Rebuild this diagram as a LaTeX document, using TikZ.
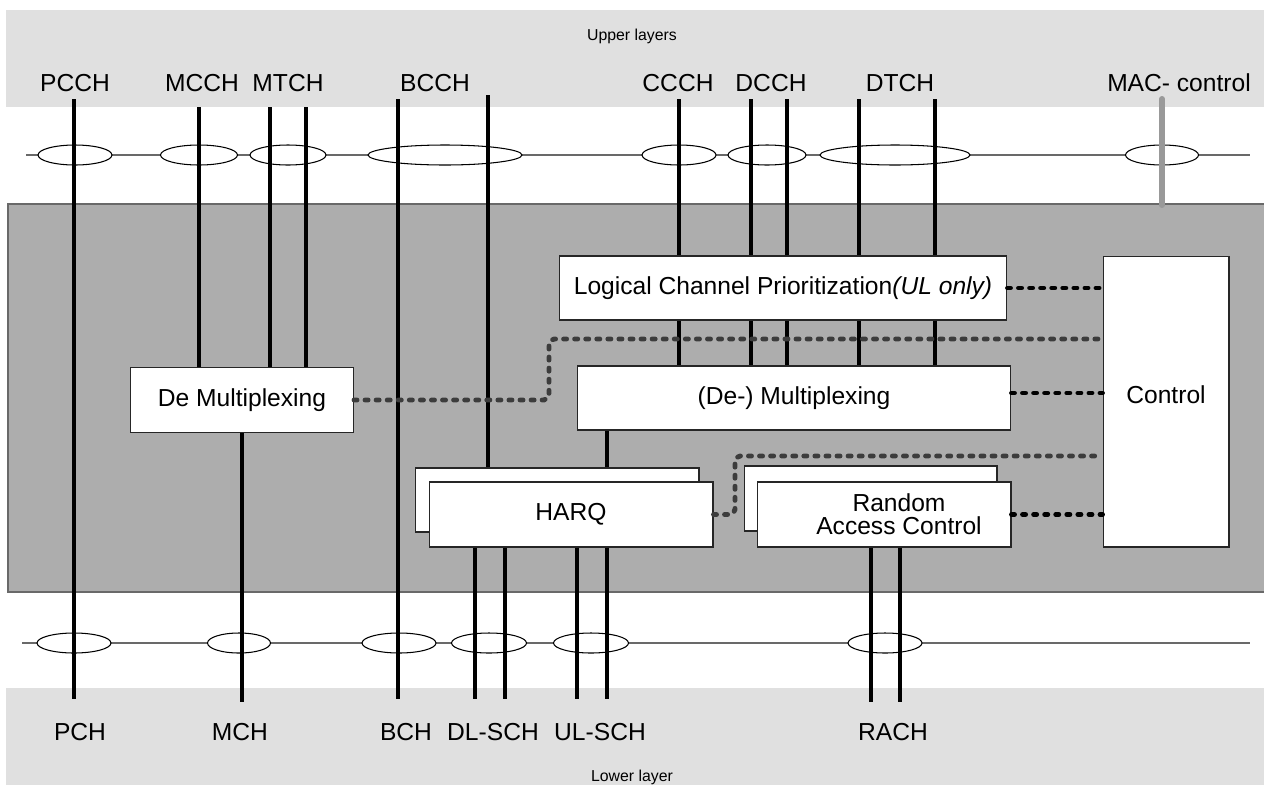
\documentclass[tikz,border=0pt]{standalone}
\usepackage{fontspec}
\setmainfont{Liberation Sans}
\usetikzlibrary{shapes.geometric}

\definecolor{band}{RGB}{224,224,224}
\definecolor{macbody}{RGB}{173,173,173}
\definecolor{sapline}{RGB}{105,105,105}
\definecolor{dotline}{RGB}{60,60,60}

\begin{document}
\begin{tikzpicture}[x=0.02cm,y=-0.02cm,
    chan/.style={line width=2.2pt},
    pill/.style={ellipse,draw,fill=white,line width=0.6pt,inner sep=0pt,
      minimum height=0.4cm,minimum width=#1},
    box/.style={draw=black!85,fill=white,line width=0.6pt,inner sep=0pt,
      font=\fontsize{14}{13}\selectfont,align=center},
    ctrl link/.style={line width=2.8pt,line cap=round,
      dash pattern=on 1.7pt off 4.6pt},
    ]
    \tikzstyle{every node}=[font=\fontsize{14}{16}\selectfont]
    \tikzstyle{layer}=[font=\fontsize{9}{11}\selectfont]

    \useasboundingbox (0,0) rectangle (1264,785);

    % upper / lower layers and the MAC body
    \fill[band] (6,10) rectangle (1264,107);
    \fill[band] (6,688) rectangle (1264,785);
    \fill[macbody] (8,204) rectangle (1264,592);
    \draw[sapline,line width=1pt] (1264,204) -- (8,204) -- (8,592) -- (1264,592);
    \node[layer] (up) at (632,36) {Upper layers};
    \node[layer] (low) at (632,777) {Lower layer};

    % logical channels
    \node (pcch) at (75,83) {PCCH};
    \node (mcch) at (202,83) {MCCH};
    \node (mtch) at (288,83) {MTCH};
    \node (bcch) at (435,83) {BCCH};
    \node (ccch) at (678,83) {CCCH};
    \node (dcch) at (771,83) {DCCH};
    \node (dtch) at (900,83) {DTCH};
    \node (mac) at (1179,83) {MAC- control};

    % transport channels
    \node (pch) at (80,732) {PCH};
    \node (mch) at (240,732) {MCH};
    \node (bch) at (406,732) {BCH};
    \node (dlsch) at (493,732) {DL-SCH};
    \node (ulsch) at (600,732) {UL-SCH};
    \node (rach) at (893,732) {RACH};

    % service access points
    \draw[sapline,line width=0.7pt] (26,155) -- (1250,155);
    \draw[sapline,line width=0.7pt] (22,643) -- (1250,643);
    \node[pill=1.48cm] (s1) at (75,155) {};
    \node[pill=1.54cm] (s2) at (199,155) {};
    \node[pill=1.52cm] (s3) at (288,155) {};
    \node[pill=3.08cm] (s4) at (445,155) {};
    \node[pill=1.48cm] (s5) at (679,155) {};
    \node[pill=1.56cm] (s6) at (767,155) {};
    \node[pill=3.0cm] (s7) at (895,155) {};
    \node[pill=1.46cm] (s8) at (1162,155) {};
    \node[pill=1.48cm] (r1) at (74,643) {};
    \node[pill=1.26cm] (r2) at (239,643) {};
    \node[pill=1.48cm] (r3) at (399,643) {};
    \node[pill=1.5cm] (r4) at (489,643) {};
    \node[pill=1.5cm] (r5) at (591,643) {};
    \node[pill=1.48cm] (r6) at (885,643) {};

    % MAC entities
    \node[box,minimum width=8.96cm,minimum height=1.28cm] (lcp) at (783,288)
      {Logical Channel Prioritization\textit{(UL only)}};
    \node[box,minimum width=8.68cm,minimum height=1.28cm] (mux) at (794,398)
      {(De-) Multiplexing};
    \node[box,minimum width=4.46cm,minimum height=1.3cm] (demux) at (242,400)
      {De Multiplexing};
    \node[box,minimum width=2.52cm,minimum height=5.82cm] (ctrl) at (1166,401.5) {};
    \node (ctrltext) at (1166,395) {Control};
    \node[box,minimum width=5.68cm,minimum height=1.28cm] (harqb) at (557,500) {};
    \node[box,minimum width=5.68cm,minimum height=1.3cm] (harq) at (571,514.5) {HARQ};
    \node[box,minimum width=5.06cm,minimum height=1.3cm] (racb) at (870.5,498.5) {};
    \node[box,minimum width=5.08cm,minimum height=1.3cm] (rac) at (884,514.5)
      {\hspace*{0.6cm}Random\\\hspace*{0.6cm}Access Control};

    % channel ends
    \coordinate (pcch t) at (74,99);
    \coordinate (mcch t) at (199,107);
    \coordinate (mtch t1) at (270,107);
    \coordinate (mtch t2) at (306,107);
    \coordinate (bcch t1) at (398,99);
    \coordinate (bcch t2) at (488,95);
    \coordinate (ccch t) at (679,99);
    \coordinate (dcch t1) at (751,99);
    \coordinate (dcch t2) at (787,99);
    \coordinate (dtch t1) at (859,99);
    \coordinate (dtch t2) at (935,99);
    \coordinate (mac t) at (1162,99);
    \coordinate (mac b) at (1162,205);
    \coordinate (pch b) at (74,699);
    \coordinate (mch b) at (242,702);
    \coordinate (bch b) at (398,699);
    \coordinate (dl b1) at (475,699);
    \coordinate (dl b2) at (505,699);
    \coordinate (ul b1) at (577,699);
    \coordinate (ul b2) at (607,699);
    \coordinate (rach b1) at (871,702);
    \coordinate (rach b2) at (900,702);

    \draw[chan] (pcch t) -- (pch b);
    \draw[chan] (mcch t) -- (mcch t |- demux.north);
    \draw[chan] (mtch t1) -- (mtch t1 |- demux.north);
    \draw[chan] (mtch t2) -- (mtch t2 |- demux.north);
    \draw[chan] (bcch t1) -- (bch b);
    \draw[chan] (bcch t2) -- (bcch t2 |- harqb.north);
    \draw[chan] (ccch t) -- (ccch t |- lcp.north) (ccch t |- lcp.south) -- (ccch t |- mux.north);
    \draw[chan] (dcch t1) -- (dcch t1 |- lcp.north) (dcch t1 |- lcp.south) -- (dcch t1 |- mux.north);
    \draw[chan] (dcch t2) -- (dcch t2 |- lcp.north) (dcch t2 |- lcp.south) -- (dcch t2 |- mux.north);
    \draw[chan] (dtch t1) -- (dtch t1 |- lcp.north) (dtch t1 |- lcp.south) -- (dtch t1 |- mux.north);
    \draw[chan] (dtch t2) -- (dtch t2 |- lcp.north) (dtch t2 |- lcp.south) -- (dtch t2 |- mux.north);
    \draw[line width=3.4pt,line cap=round,black!40] (mac t) -- (mac b);
    \draw[chan] (demux.south -| mch b) -- (mch b);
    \draw[chan] (mux.south -| ul b2) -- (ul b2 |- harqb.north);
    \draw[chan] (harq.south -| dl b1) -- (dl b1);
    \draw[chan] (harq.south -| dl b2) -- (dl b2);
    \draw[chan] (harq.south -| ul b1) -- (ul b1);
    \draw[chan] (harq.south -| ul b2) -- (ul b2);
    \draw[chan] (rac.south -| rach b1) -- (rach b1);
    \draw[chan] (rac.south -| rach b2) -- (rach b2);

    % control paths
    \draw[ctrl link] (lcp.east) -- (lcp.east -| ctrl.west);
    \draw[ctrl link] ([yshift=0.1cm]mux.east) -- ([yshift=0.1cm]mux.east -| ctrl.west);
    \draw[ctrl link] (rac.east) -- (rac.east -| ctrl.west);
    \draw[ctrl link,dotline,rounded corners=3pt] (demux.east) -| (549,339) -- (ctrl.west |- 549,339);
    \draw[ctrl link,dotline,rounded corners=3pt] (harq.east) -| (735,456) -- (ctrl.west |- 735,456);

  \end{tikzpicture}
\end{document}
